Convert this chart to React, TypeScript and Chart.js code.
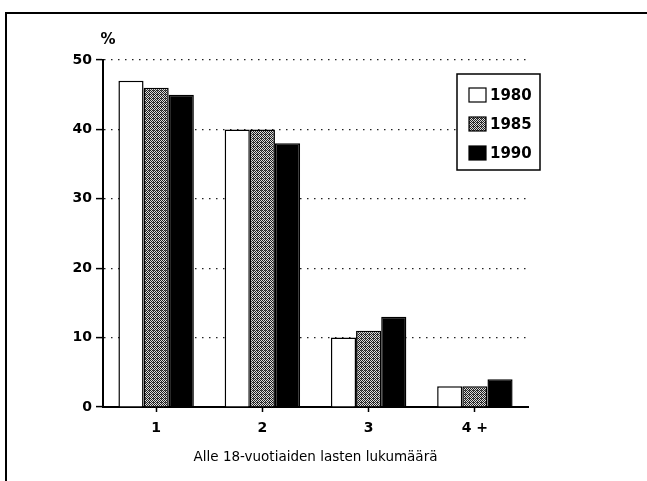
import React, { useEffect, useRef } from 'react';
import { Chart, registerables } from 'chart.js';

Chart.register(...registerables);

const categories = ['1', '2', '3', '4 +'];
const seriesLabels = ['1980', '1985', '1990'];
const values1980 = [47, 40, 10, 3];
const values1985 = [46, 40, 11, 3];
const values1990 = [45, 38, 13, 4];
const yTicks = [0, 10, 20, 30, 40, 50];
const yUnit = '%';
const xTitle = 'Alle 18-vuotiaiden lasten lukumäärä';

const FONT = 'DejaVu Sans';

function makeDither(ctx: CanvasRenderingContext2D): CanvasPattern | string {
  const c = document.createElement('canvas');
  c.width = 4;
  c.height = 4;
  const g = c.getContext('2d');
  if (!g) return '#888';
  g.fillStyle = '#dcdcdc';
  g.fillRect(0, 0, 4, 4);
  g.fillStyle = '#1e1e1e';
  for (let y = 0; y < 4; y++) {
    for (let x = 0; x < 4; x++) {
      if ((x + y) % 2 === 0) g.fillRect(x, y, 1, 1);
    }
  }
  g.fillStyle = '#555';
  g.fillRect(1, 2, 1, 1);
  return ctx.createPattern(c, 'repeat') || '#888';
}

const overlayPlugin = {
  id: 'overlay',
  afterDraw(chart: any) {
    const ctx = chart.ctx as CanvasRenderingContext2D;
    const { top, right, left } = chart.chartArea;
    ctx.save();
    ctx.fillStyle = '#000';
    ctx.font = `bold 15px "${FONT}"`;
    ctx.textAlign = 'center';
    ctx.textBaseline = 'middle';
    ctx.fillText(yUnit, left + 5, top - 20);

    const bx = right - 71;
    const by = top + 14;
    const bw = 83;
    const bh = 96;
    ctx.fillStyle = '#fff';
    ctx.fillRect(bx, by, bw, bh);
    ctx.strokeStyle = '#000';
    ctx.lineWidth = 1.5;
    ctx.strokeRect(bx, by, bw, bh);
    ctx.font = `bold 15px "${FONT}"`;
    ctx.textAlign = 'left';
    chart.data.datasets.forEach((ds: any, i: number) => {
      const cy = by + 21 + i * 29;
      ctx.fillStyle = ds.backgroundColor;
      ctx.fillRect(bx + 12, cy - 7, 17, 14);
      ctx.strokeStyle = '#000';
      ctx.lineWidth = 1.2;
      ctx.strokeRect(bx + 12, cy - 7, 17, 14);
      ctx.fillStyle = '#000';
      ctx.fillText(ds.label, bx + 33, cy + 1);
    });
    ctx.restore();
  },
};

export default function App() {
  const ref = useRef<HTMLCanvasElement | null>(null);

  useEffect(() => {
    const canvas = ref.current;
    if (!canvas) return;
    const ctx = canvas.getContext('2d') as CanvasRenderingContext2D;
    const dither = makeDither(ctx);
    const series = [values1980, values1985, values1990];
    const fills: any[] = ['#ffffff', dither, '#000000'];
    const chart = new Chart(canvas, {
      type: 'bar',
      data: {
        labels: categories,
        datasets: seriesLabels.map((label, i) => ({
          label,
          data: series[i],
          backgroundColor: fills[i],
          borderColor: '#000',
          borderWidth: 1.5,
          categoryPercentage: 0.71,
          barPercentage: 1,
        })),
      },
      options: {
        responsive: false,
        maintainAspectRatio: false,
        animation: false,
        devicePixelRatio: 1,
        layout: { padding: { top: 60, right: 119, left: 0, bottom: 0 } },
        plugins: {
          legend: { display: false },
          tooltip: { enabled: false },
          title: { display: false },
        },
        scales: {
          y: {
            min: 0,
            max: 50,
            afterBuildTicks: (s: any) => {
              s.ticks = yTicks.map((v) => ({ value: v }));
            },
            afterFit: (s: any) => {
              s.width = 103;
            },
            ticks: {
              font: { family: FONT, weight: 'bold', size: 14 },
              color: '#000',
              padding: 4,
            },
            grid: {
              color: (c: any) => (c.tick && c.tick.value === 0 ? 'rgba(0,0,0,0)' : '#222'),
              lineWidth: 1.2,
              tickLength: 7,
              tickColor: '#000',
              tickWidth: 1.5,
            },
            border: { color: '#000', width: 2, dash: [1.5, 5.5] },
          },
          x: {
            afterFit: (s: any) => {
              s.height = 74;
            },
            grid: {
              display: true,
              drawOnChartArea: false,
              offset: false,
              tickLength: 5,
              tickColor: '#000',
              tickWidth: 1.5,
            },
            border: { color: '#000', width: 2 },
            ticks: {
              font: { family: FONT, weight: 'bold', size: 14 },
              color: '#000',
              padding: 8,
            },
            title: {
              display: true,
              text: xTitle,
              font: { family: FONT, size: 13.5 },
              color: '#000',
              padding: { top: 0, bottom: 15 },
            },
          },
        },
      },
      plugins: [overlayPlugin],
    } as any);
    return () => chart.destroy();
  }, []);

  return (
    <div style={{ position: 'absolute', left: 0, top: 0, width: 647, height: 481, overflow: 'hidden', background: '#fff' }}>
      <div
        style={{
          position: 'absolute',
          left: 5,
          top: 12,
          width: 700,
          height: 500,
          borderLeft: '2px solid #000',
          borderTop: '2px solid #000',
        }}
      />
      <canvas ref={ref} width={647} height={481} style={{ position: 'absolute', left: 0, top: 0 }} />
    </div>
  );
}
